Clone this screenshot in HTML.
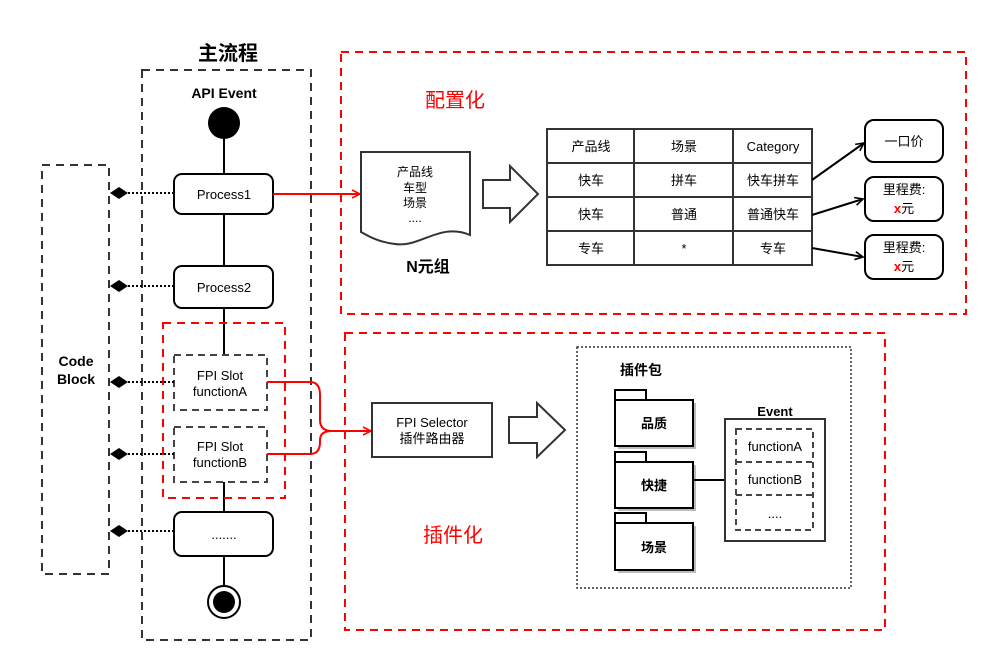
<!DOCTYPE html>
<html><head><meta charset="utf-8"><style>
html,body{margin:0;padding:0;background:#fff;width:984px;height:652px;overflow:hidden}
text{font-family:"Liberation Sans","Noto Sans CJK SC",sans-serif;}
</style></head><body>
<svg width="984" height="652" viewBox="0 0 984 652" xmlns="http://www.w3.org/2000/svg">
<defs>
<marker id="ab" markerWidth="10" markerHeight="10" refX="9" refY="5" orient="auto" markerUnits="userSpaceOnUse"><path d="M1,1 L9,5 L1,9" fill="none" stroke="#000" stroke-width="1.6"/></marker>
<marker id="ar" markerWidth="10" markerHeight="10" refX="9" refY="5" orient="auto" markerUnits="userSpaceOnUse"><path d="M1,1 L9,5 L1,9" fill="none" stroke="#f00" stroke-width="1.6"/></marker>
</defs>
<!-- title -->
<text x="228" y="60" font-size="20" font-weight="bold" text-anchor="middle">主流程</text>
<rect x="142" y="70" width="169" height="570" fill="none" stroke="#333" stroke-width="2" stroke-dasharray="8,6"/>
<text x="224" y="98" font-size="14" font-weight="bold" text-anchor="middle">API Event</text>
<!-- code block -->
<rect x="42" y="165" width="67" height="409" fill="none" stroke="#333" stroke-width="2" stroke-dasharray="8,6"/>
<text x="76" y="366" font-size="14" font-weight="bold" text-anchor="middle">Code</text>
<text x="76" y="384" font-size="14" font-weight="bold" text-anchor="middle">Block</text>
<!-- vertical spine -->
<line x1="224" y1="123" x2="224" y2="323" stroke="#000" stroke-width="2"/>
<line x1="224" y1="482" x2="224" y2="512" stroke="#000" stroke-width="2"/>
<line x1="224" y1="556" x2="224" y2="590" stroke="#000" stroke-width="2"/>
<line x1="224" y1="323" x2="224" y2="355" stroke="#000" stroke-width="2"/>
<circle cx="224" cy="123" r="16" fill="#000"/>
<circle cx="224" cy="602" r="16" fill="#fff" stroke="#000" stroke-width="2"/>
<circle cx="224" cy="602" r="11" fill="#000"/>
<!-- red inner -->
<rect x="163" y="323" width="122" height="175" fill="none" stroke="#f00" stroke-width="2" stroke-dasharray="8,6"/>
<!-- processes -->
<rect x="174" y="174" width="99" height="40" rx="8" fill="#fff" stroke="#000" stroke-width="2"/>
<text x="224" y="199" font-size="13" text-anchor="middle">Process1</text>
<rect x="174" y="266" width="99" height="42" rx="8" fill="#fff" stroke="#000" stroke-width="2"/>
<text x="224" y="292" font-size="13" text-anchor="middle">Process2</text>
<rect x="174" y="355" width="93" height="55" fill="#fff" stroke="#444" stroke-width="2" stroke-dasharray="7,5"/>
<text x="220" y="380" font-size="13" text-anchor="middle">FPI Slot</text>
<text x="220" y="396" font-size="13" text-anchor="middle">functionA</text>
<rect x="174" y="427" width="93" height="55" fill="#fff" stroke="#444" stroke-width="2" stroke-dasharray="7,5"/>
<text x="220" y="451" font-size="13" text-anchor="middle">FPI Slot</text>
<text x="220" y="467" font-size="13" text-anchor="middle">functionB</text>
<rect x="174" y="512" width="99" height="44" rx="8" fill="#fff" stroke="#000" stroke-width="2"/>
<text x="224" y="539" font-size="13" text-anchor="middle">.......</text>
<!-- diamonds + dotted -->
<g stroke="#000" stroke-width="2" stroke-dasharray="2,2">
<line x1="128" y1="193" x2="174" y2="193"/><line x1="128" y1="286" x2="174" y2="286"/>
<line x1="128" y1="382" x2="174" y2="382"/><line x1="128" y1="454" x2="174" y2="454"/>
<line x1="128" y1="531" x2="174" y2="531"/></g>
<g fill="#000">
<path d="M110,193 L119,187 L128,193 L119,199Z"/><path d="M110,286 L119,280 L128,286 L119,292Z"/>
<path d="M110,382 L119,376 L128,382 L119,388Z"/><path d="M110,454 L119,448 L128,454 L119,460Z"/>
<path d="M110,531 L119,525 L128,531 L119,537Z"/></g>
<!-- config box -->
<rect x="341" y="52" width="625" height="262" fill="none" stroke="#f00" stroke-width="2" stroke-dasharray="8,6"/>
<text x="455" y="107" font-size="20" fill="#f00" text-anchor="middle">配置化</text>
<line x1="273" y1="194" x2="360" y2="194" stroke="#f00" stroke-width="2" marker-end="url(#ar)"/>
<path d="M361,152 L470,152 L470,235 C440,222 420,248 395,244 C378,242 368,236 361,232 Z" fill="#fff" stroke="#333" stroke-width="2"/>
<text x="415" y="176" font-size="12" text-anchor="middle">产品线</text>
<text x="415" y="192" font-size="12" text-anchor="middle">车型</text>
<text x="415" y="207" font-size="12" text-anchor="middle">场景</text>
<text x="415" y="222" font-size="12" text-anchor="middle">....</text>
<text x="428" y="272" font-size="16" font-weight="bold" text-anchor="middle">N元组</text>
<path d="M483,180 L510,180 L510,166 L538,194 L510,222 L510,208 L483,208 Z" fill="#fff" stroke="#333" stroke-width="2"/>
<!-- table -->
<g stroke="#333" stroke-width="2" fill="none">
<rect x="547" y="129" width="265" height="136"/>
<line x1="634" y1="129" x2="634" y2="265"/><line x1="733" y1="129" x2="733" y2="265"/>
<line x1="547" y1="163" x2="812" y2="163"/><line x1="547" y1="197" x2="812" y2="197"/><line x1="547" y1="231" x2="812" y2="231"/>
</g>
<g font-size="13" text-anchor="middle">
<text x="591" y="151">产品线</text><text x="684" y="151">场景</text><text x="773" y="151">Category</text>
<text x="591" y="185">快车</text><text x="684" y="185">拼车</text><text x="773" y="185">快车拼车</text>
<text x="591" y="219">快车</text><text x="684" y="219">普通</text><text x="773" y="219">普通快车</text>
<text x="591" y="253">专车</text><text x="684" y="253">*</text><text x="773" y="253">专车</text>
</g>
<g stroke="#000" stroke-width="2">
<line x1="812" y1="180" x2="864" y2="143" marker-end="url(#ab)"/>
<line x1="812" y1="215" x2="863" y2="199" marker-end="url(#ab)"/>
<line x1="812" y1="248" x2="863" y2="257" marker-end="url(#ab)"/>
</g>
<g fill="#fff" stroke="#000" stroke-width="2">
<rect x="865" y="120" width="78" height="42" rx="9"/>
<rect x="865" y="177" width="78" height="44" rx="9"/>
<rect x="865" y="235" width="78" height="44" rx="9"/>
</g>
<text x="904" y="146" font-size="13" text-anchor="middle">一口价</text>
<text x="904" y="194" font-size="13" text-anchor="middle">里程费:</text>
<text x="904" y="213" font-size="13" text-anchor="middle"><tspan fill="#f00" font-weight="bold">x</tspan>元</text>
<text x="904" y="252" font-size="13" text-anchor="middle">里程费:</text>
<text x="904" y="271" font-size="13" text-anchor="middle"><tspan fill="#f00" font-weight="bold">x</tspan>元</text>
<!-- plugin box -->
<rect x="345" y="333" width="540" height="297" fill="none" stroke="#f00" stroke-width="2" stroke-dasharray="8,6"/>
<text x="453" y="542" font-size="20" fill="#f00" text-anchor="middle">插件化</text>
<path d="M267,382 L310,382 Q320,382 320,395 L320,420 Q320,431 332,431 L371,431" fill="none" stroke="#f00" stroke-width="2" marker-end="url(#ar)"/>
<path d="M267,454 L310,454 Q320,454 320,442 L320,440 Q320,431 332,431" fill="none" stroke="#f00" stroke-width="2"/>
<rect x="372" y="403" width="120" height="54" fill="#fff" stroke="#333" stroke-width="2"/>
<text x="432" y="427" font-size="13" text-anchor="middle">FPI Selector</text>
<text x="432" y="443" font-size="13" text-anchor="middle">插件路由器</text>
<path d="M509,417 L537,417 L537,403 L565,430 L537,457 L537,443 L509,443 Z" fill="#fff" stroke="#333" stroke-width="2"/>
<rect x="577" y="347" width="274" height="241" fill="none" stroke="#333" stroke-width="1.5" stroke-dasharray="2,2"/>
<text x="641" y="375" font-size="14" font-weight="bold" text-anchor="middle">插件包</text>
<g stroke="#000" stroke-width="2">
<rect x="618" y="403" width="78" height="46" fill="#bbb" stroke="none"/>
<rect x="615" y="390" width="31" height="10" fill="#fff"/><rect x="615" y="400" width="78" height="46" fill="#fff"/>
<rect x="618" y="465" width="78" height="46" fill="#bbb" stroke="none"/>
<rect x="615" y="452" width="31" height="10" fill="#fff"/><rect x="615" y="462" width="78" height="46" fill="#fff"/>
<rect x="618" y="526" width="78" height="47" fill="#bbb" stroke="none"/>
<rect x="615" y="513" width="31" height="10" fill="#fff"/><rect x="615" y="523" width="78" height="47" fill="#fff"/>
<line x1="693" y1="480" x2="725" y2="480"/>
</g>
<text x="654" y="428" font-size="13" font-weight="bold" text-anchor="middle">品质</text>
<text x="654" y="490" font-size="13" font-weight="bold" text-anchor="middle">快捷</text>
<text x="654" y="552" font-size="13" font-weight="bold" text-anchor="middle">场景</text>
<text x="775" y="416" font-size="13" font-weight="bold" text-anchor="middle">Event</text>
<rect x="725" y="419" width="100" height="122" fill="#fff" stroke="#333" stroke-width="2"/>
<g fill="none" stroke="#444" stroke-width="2" stroke-dasharray="6,4">
<rect x="736" y="429" width="77" height="101"/>
<line x1="736" y1="462" x2="813" y2="462"/><line x1="736" y1="495" x2="813" y2="495"/>
</g>
<text x="775" y="451" font-size="13" text-anchor="middle">functionA</text>
<text x="775" y="484" font-size="13" text-anchor="middle">functionB</text>
<text x="775" y="518" font-size="13" text-anchor="middle">....</text>
</svg>
</body></html>
